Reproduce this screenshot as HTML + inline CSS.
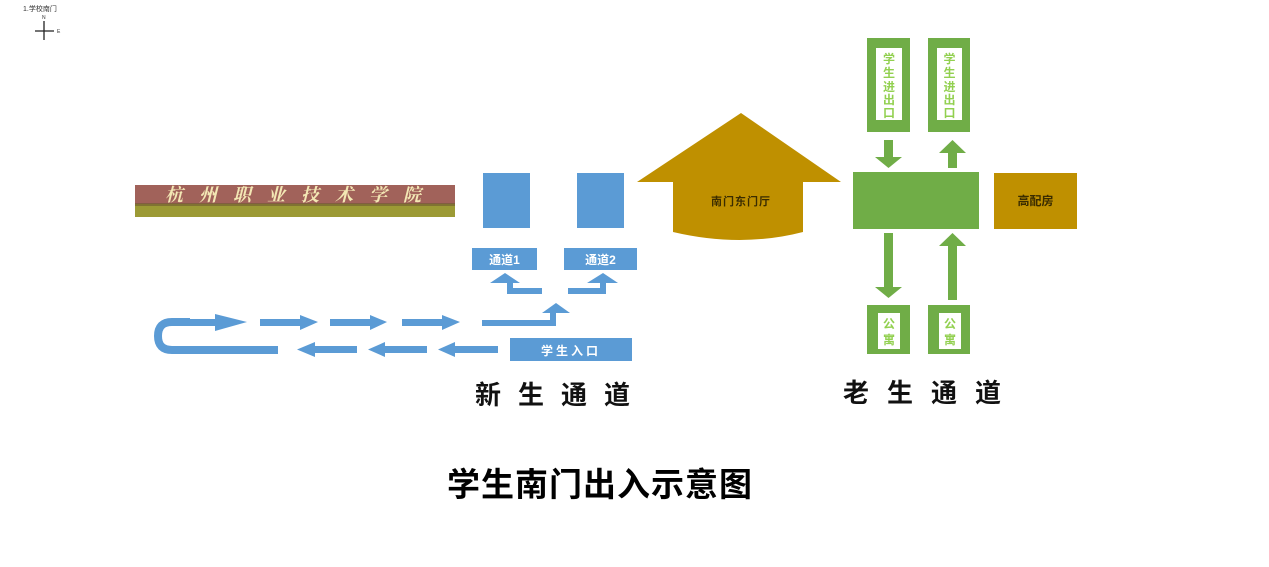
<!DOCTYPE html>
<html><head><meta charset="utf-8"><style>
html,body{margin:0;padding:0;background:#fff;width:1269px;height:567px;overflow:hidden}
svg text{font-family:"Liberation Sans","Noto Sans CJK SC",sans-serif;font-weight:bold}
</style></head><body>
<svg width="1269" height="567" viewBox="0 0 1269 567" xmlns="http://www.w3.org/2000/svg">
<!-- top-left legend -->
<text x="23" y="11" font-size="7" font-weight="normal" fill="#333" style="font-weight:normal">1.学校南门</text>
<text x="42" y="19" font-size="5" fill="#333" style="font-weight:normal">N</text>
<line x1="44" y1="21" x2="44" y2="40" stroke="#222" stroke-width="1.3"/>
<line x1="35" y1="31" x2="54" y2="31" stroke="#222" stroke-width="1.3"/>
<text x="57" y="33" font-size="5" fill="#333" style="font-weight:normal">E</text>

<!-- banner -->
<rect x="135" y="185" width="320" height="21" fill="#a1625a"/>
<rect x="135" y="204" width="320" height="13" fill="#9c9a35"/>
<rect x="135" y="203" width="320" height="3" fill="#6e5a30" opacity="0.6"/>
<text x="165" y="201" font-size="18" fill="#f3e7b4" letter-spacing="16" font-style="italic" style="font-family:'Noto Serif CJK SC',serif">杭州职业技术学院</text>

<!-- blue rects -->
<g fill="#5b9bd5">
<rect x="483" y="173" width="47" height="55"/>
<rect x="577" y="173" width="47" height="55"/>
<rect x="472" y="248" width="65" height="22"/>
<rect x="564" y="248" width="73" height="22"/>
<rect x="510" y="338" width="122" height="23"/>
<!-- small arrows -->
<rect x="507" y="281" width="6" height="13"/>
<rect x="507" y="288" width="35" height="6"/>
<polygon points="490,283 520,283 505,273"/>
<rect x="600" y="281" width="6" height="13"/>
<rect x="568" y="288" width="38" height="6"/>
<polygon points="587,283 618,283 603,273"/>
<!-- row 1 right arrows -->
<rect x="190" y="319" width="30" height="7"/>
<polygon points="215,314 247,322 215,331"/>
<rect x="260" y="319" width="42" height="7"/>
<polygon points="300,315 318,322 300,330"/>
<rect x="330" y="319" width="42" height="7"/>
<polygon points="370,315 387,322 370,330"/>
<rect x="402" y="319" width="42" height="7"/>
<polygon points="442,315 460,322 442,330"/>
<rect x="482" y="320" width="70" height="6"/>
<rect x="550" y="310" width="6" height="16"/>
<polygon points="542,313 570,313 556,303"/>
<!-- row 2 left arrows -->
<rect x="313" y="346" width="44" height="7"/>
<polygon points="315,342 297,349.5 315,357"/>
<rect x="383" y="346" width="44" height="7"/>
<polygon points="385,342 368,349.5 385,357"/>
<rect x="453" y="346" width="45" height="7"/>
<polygon points="455,342 438,349.5 455,357"/>
</g>
<path d="M190 322 H172 Q158 322 158 336 Q158 350 172 350 H278" fill="none" stroke="#5b9bd5" stroke-width="8"/>
<text x="504.5" y="264" font-size="12" fill="#fff" text-anchor="middle">通道1</text>
<text x="600.5" y="264" font-size="12" fill="#fff" text-anchor="middle">通道2</text>
<text x="571" y="355" font-size="12" fill="#fff" text-anchor="middle" letter-spacing="3">学生入口</text>

<!-- gold house arrow -->
<path d="M741 113 L841 182 L803 182 L803 232 Q741 248 673 232 L673 182 L637 182 Z" fill="#bf9000"/>
<text x="741" y="205" font-size="11" fill="#3a2c00" text-anchor="middle" letter-spacing="1">南门东门厅</text>

<!-- green -->
<g fill="#70ad47">
<rect x="867" y="38" width="43" height="94"/>
<rect x="928" y="38" width="42" height="94"/>
<rect x="853" y="172" width="126" height="57"/>
<rect x="867" y="305" width="43" height="49"/>
<rect x="928" y="305" width="42" height="49"/>
<rect x="884" y="140" width="9" height="18"/>
<polygon points="875,157 902,157 888.5,168"/>
<rect x="948" y="152" width="9" height="16"/>
<polygon points="939,153 966,153 952.5,140"/>
<rect x="884" y="233" width="9" height="55"/>
<polygon points="875,287 902,287 888.5,298"/>
<rect x="948" y="245" width="9" height="55"/>
<polygon points="939,246 966,246 952.5,233"/>
</g>
<g fill="#fff">
<rect x="876" y="48" width="26" height="72"/>
<rect x="937" y="48" width="25" height="72"/>
<rect x="878" y="313" width="22" height="36"/>
<rect x="939" y="313" width="22" height="36"/>
</g>
<g font-size="12" fill="#92d050" text-anchor="middle">
<text x="889" y="63">学</text><text x="889" y="77">生</text><text x="889" y="91">进</text><text x="889" y="104">出</text><text x="889" y="117">口</text>
<text x="949.5" y="63">学</text><text x="949.5" y="77">生</text><text x="949.5" y="91">进</text><text x="949.5" y="104">出</text><text x="949.5" y="117">口</text>
<text x="889" y="328">公</text><text x="889" y="344">寓</text>
<text x="950" y="328">公</text><text x="950" y="344">寓</text>
</g>
<rect x="994" y="173" width="83" height="56" fill="#bf9000"/>
<text x="1035.5" y="205" font-size="12" fill="#3a2c00" text-anchor="middle">高配房</text>

<!-- labels -->
<text x="475" y="404" font-size="26" fill="#111" letter-spacing="17">新生通道</text>
<text x="843" y="402" font-size="26" fill="#111" letter-spacing="18">老生通道</text>
<text x="447" y="496" font-size="33" fill="#000" letter-spacing="1">学生南门出入示意图</text>
</svg>
</body></html>
